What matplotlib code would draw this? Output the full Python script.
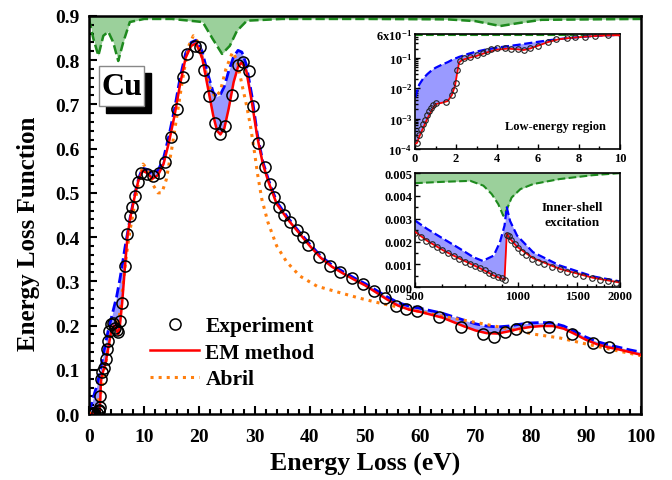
import numpy as np
import matplotlib
matplotlib.use("Agg")
import matplotlib.pyplot as plt
from matplotlib.patches import Rectangle
from matplotlib.ticker import MultipleLocator, FixedLocator, NullFormatter

plt.rcParams['font.family'] = 'Liberation Serif'
plt.rcParams['font.weight'] = 'bold'
plt.rcParams['axes.labelweight'] = 'bold'
plt.rcParams['mathtext.default'] = 'regular'

# ---- experiment (optical data), 0-100 eV
exp_E = [0.1, 0.2, 0.3, 0.4, 0.5, 0.6, 0.7, 0.8, 0.9, 1.0, 1.5, 1.8, 1.9, 2.0, 2.05,
         2.2, 2.4, 2.7, 3.0, 3.3, 3.5, 3.7, 4.0, 4.4, 4.7, 5.0, 5.3, 5.6, 6.0, 6.5,
         6.9, 7.4, 7.8, 8.3, 8.8, 9.4, 10.5, 11.6, 12.6, 13.8, 14.9, 15.9, 17.0, 17.7,
         19.2, 20.1, 20.8, 21.8, 22.8, 23.7, 24.7, 25.9, 27.0, 27.9, 28.9, 29.7, 30.7,
         31.8, 32.8, 33.5, 34.4, 35.3, 36.4, 37.7, 38.8, 39.7, 41.7, 43.7, 45.5, 47.6,
         49.6, 51.6, 53.6, 55.6, 57.4, 59.4, 63.4, 67.4, 71.4, 73.4, 75.4, 77.4, 79.3,
         83.3, 87.5, 91.3, 94.2]
exp_elf = [1.6e-4, 3e-4, 4.5e-4, 6.5e-4, 9e-4, 1.3e-3, 1.8e-3, 2.3e-3, 2.8e-3, 3.3e-3,
           3.5e-3, 6e-3, 8.5e-3, 1.5e-2, 4e-2,
           0.08, 0.095, 0.105, 0.124, 0.147, 0.165, 0.188, 0.204, 0.205, 0.195, 0.19,
           0.186, 0.21, 0.251, 0.335,
           0.407, 0.448, 0.468, 0.493, 0.524, 0.545, 0.543, 0.538, 0.545, 0.57, 0.626,
           0.69, 0.762, 0.814,
           0.832, 0.83, 0.778, 0.718, 0.658, 0.633, 0.652, 0.722, 0.79, 0.795, 0.776,
           0.697, 0.613,
           0.558, 0.52, 0.49, 0.468, 0.45, 0.434, 0.416, 0.40, 0.382, 0.355, 0.335,
           0.321, 0.307,
           0.294, 0.278, 0.262, 0.244, 0.237, 0.232, 0.219, 0.197, 0.181, 0.174, 0.186,
           0.192, 0.197,
           0.197, 0.181, 0.161, 0.151]

# ---- EM method and its upper bound (shaded), common energy grid
em_E = [0.02, 0.1, 0.2, 0.4, 0.6, 0.8, 1.0, 1.3, 1.6, 1.8, 1.95, 2.05, 2.15, 2.3, 2.6,
        3.0, 3.5, 4.0, 4.5, 5.0, 5.3, 5.6, 6.0, 6.5, 7.0, 7.5, 8.0, 8.5, 9.0, 9.7,
        10.5, 11.5, 12.5, 13.5, 14.5, 15.5, 16.5, 17.5, 18.5, 19.4, 20.5, 21.5, 22.5,
        23.2, 23.8, 24.5, 25.3, 26.2, 27.0, 27.7, 28.5, 29.5, 30.5, 31.5, 32.5, 34,
        36, 38, 40, 42, 44, 46, 48, 50, 52, 54, 56, 58, 60, 64, 68, 70, 72, 74, 76,
        78, 80, 82, 84, 86, 88, 90, 92, 94, 96, 98, 100]
em_elf = [1.5e-4, 1.6e-4, 2.5e-4, 5e-4, 1e-3, 1.8e-3, 3.0e-3, 3.3e-3, 3.8e-3, 6e-3,
          1.2e-2, 3e-2, 7e-2, 0.085, 0.098,
          0.115, 0.15, 0.185, 0.2, 0.19, 0.18, 0.2, 0.25, 0.33, 0.405, 0.445, 0.475,
          0.505, 0.53, 0.55,
          0.545, 0.532, 0.54, 0.565, 0.615, 0.675, 0.745, 0.805, 0.832, 0.838, 0.805,
          0.74, 0.675,
          0.64, 0.632, 0.645, 0.69, 0.75, 0.785, 0.795, 0.775, 0.705, 0.625, 0.565,
          0.525, 0.475,
          0.44, 0.41, 0.38, 0.353, 0.333, 0.318, 0.304, 0.291, 0.275, 0.259, 0.245,
          0.236, 0.231, 0.218, 0.198, 0.189, 0.183, 0.182, 0.187,
          0.193, 0.197, 0.199, 0.199, 0.193, 0.181, 0.168, 0.158, 0.151, 0.146, 0.14,
          0.134]
em_hi = [5e-3, 8e-3, 1.3e-2, 2.1e-2, 2.9e-2, 3.8e-2, 4.7e-2, 5.9e-2, 7.2e-2, 8.5e-2,
         0.095, 0.1, 0.107, 0.115, 0.135,
         0.16, 0.19, 0.215, 0.24, 0.265, 0.285, 0.305, 0.335, 0.375, 0.41, 0.447,
         0.478, 0.508, 0.533, 0.556,
         0.553, 0.543, 0.55, 0.578, 0.63, 0.69, 0.76, 0.815, 0.84, 0.845, 0.82, 0.77,
         0.727,
         0.718, 0.722, 0.74, 0.775, 0.808, 0.822, 0.818, 0.79, 0.72, 0.632, 0.57,
         0.53, 0.48,
         0.444, 0.413, 0.384, 0.357, 0.337, 0.322, 0.308, 0.295, 0.28, 0.265, 0.252,
         0.244, 0.239, 0.228, 0.212, 0.204, 0.199, 0.197, 0.199,
         0.203, 0.206, 0.207, 0.206, 0.199, 0.187, 0.174, 0.164, 0.157, 0.151, 0.145,
         0.14]

# ---- Abril model
abril_E = [0, 1, 2, 2.5, 3, 3.5, 4, 4.5, 5, 5.5, 6, 6.5, 7, 7.5, 8, 8.5, 9, 9.8, 10.5,
           11.5, 12.5, 13.2, 14, 15, 16, 17, 18, 18.9, 19.8, 20.8, 21.8, 22.9, 23.8,
           24.8, 26, 26.8, 27.7, 28.5, 29.2, 30, 30.5, 31.3, 32.4, 34, 35.8, 38.2,
           41.3, 45, 49, 53.3, 57.6, 63.6, 71.4, 76.3, 80.4, 85.3, 90.2, 95, 100]
abril_elf = [0, 0.01, 0.04, 0.07, 0.11, 0.15, 0.185, 0.2, 0.205, 0.22, 0.27, 0.33,
             0.38, 0.42, 0.455, 0.49, 0.525, 0.565, 0.555,
             0.52, 0.5, 0.5, 0.53, 0.6, 0.68, 0.76, 0.83, 0.855, 0.84, 0.79, 0.74,
             0.716, 0.73,
             0.78, 0.818, 0.8, 0.745, 0.7, 0.655, 0.59, 0.545, 0.486, 0.434, 0.38,
             0.344, 0.312,
             0.289, 0.276, 0.262, 0.249, 0.238, 0.222, 0.204, 0.192, 0.181, 0.172,
             0.158, 0.145, 0.132]

# ---- sum-rule ratio curve (green, top)
green_E = [0, 0.8, 1.7, 2.6, 3.5, 4.4, 5.3, 6.2, 7.4, 10, 15, 20.6, 22.4, 24.1, 25.5,
           26.8, 28.6, 35, 50, 65, 70, 74.5, 78, 82, 100]
green_v = [0.893, 0.848, 0.81, 0.855, 0.864, 0.84, 0.798, 0.84, 0.886, 0.893, 0.893,
           0.886, 0.848, 0.814, 0.832, 0.866, 0.889, 0.893, 0.893, 0.892, 0.888,
           0.877, 0.884, 0.891, 0.893]

# ---- inner-shell region
inner_exp_E = [500, 520, 540, 560, 580, 600, 625, 650, 675, 700, 725, 750, 775, 800,
               825, 850, 875, 900, 920, 930, 945, 960, 980, 1000, 1030, 1060, 1100,
               1150, 1200, 1260, 1330, 1400, 1480, 1560, 1650, 1750, 1850, 1950]
inner_exp = [0.00238, 0.0022, 0.00203, 0.00188, 0.00175, 0.00162, 0.00148, 0.00135,
             0.00123, 0.00112, 0.00101, 0.00091, 0.00082, 0.00073, 0.00063, 0.00054,
             0.00045, 0.00038, 0.00031, 0.0023, 0.00225, 0.00208, 0.00188, 0.0017,
             0.00155, 0.0014, 0.00125, 0.00112, 0.001, 0.0009, 0.00078, 0.00068,
             0.00058, 0.00048, 0.00039, 0.00031, 0.00025, 0.0002]
inner_E = [500, 543, 607, 678, 743, 790, 851, 888, 916, 930, 951, 997, 1111, 1330,
           1665, 2000]
inner_em = [0.00243, 0.00203, 0.0016, 0.00124, 0.00096, 0.00077, 0.00051, 0.0004,
            0.00034, 0.00235, 0.00212, 0.00177, 0.00127, 0.0008, 0.00041, 0.0002]
inner_hi = [0.00292, 0.00255, 0.00211, 0.00168, 0.00131, 0.00115, 0.00138, 0.00197,
            0.0027, 0.0035, 0.0029, 0.00226, 0.00153, 0.00095, 0.00047, 0.00025]
inner_green_E = [500, 607, 727, 794, 840, 878, 908, 930, 961, 1020, 1111, 1330, 1665,
                 2000]
inner_green = [0.00456, 0.00462, 0.00466, 0.00445, 0.00408, 0.00364, 0.00313, 0.0034,
               0.00393, 0.0043, 0.00452, 0.00474, 0.00491, 0.005]

fill_blue = '#9a9aff'
fill_green = '#9bd09b'
dkgreen = '#1e8a1e'
orange = '#ff7f0e'

fig = plt.figure(figsize=(6.72, 4.81), dpi=100)
ax = fig.add_axes([0.1324, 0.137, 0.8216, 0.828])

ax.fill_between(green_E, green_v, 0.9, color=fill_green, lw=0)
ax.plot(green_E, green_v, ls='--', color=dkgreen, lw=1.8)
ax.fill_between(em_E, em_elf, em_hi, color=fill_blue, lw=0)
ax.plot(em_E, em_hi, ls='--', color='blue', lw=2)
ax.plot(abril_E, abril_elf, ls=':', color=orange, lw=2.2, label='Abril', zorder=3)
ax.plot(em_E, em_elf, color='red', lw=1.8, label='EM method', zorder=4)
ax.plot(exp_E, exp_elf, 'o', mfc='none', mec='black', ms=8, mew=1.1,
        label='Experiment', zorder=5)

ax.set_xlim(0, 100)
ax.set_ylim(0, 0.9)
ax.xaxis.set_major_locator(MultipleLocator(10))
ax.xaxis.set_minor_locator(MultipleLocator(2))
ax.yaxis.set_major_locator(MultipleLocator(0.1))
ax.yaxis.set_minor_locator(MultipleLocator(0.02))
ax.yaxis.set_major_formatter(matplotlib.ticker.FormatStrFormatter('%.1f'))
ax.tick_params(which='both', direction='in', labelsize=14, width=1.5)
ax.tick_params(which='major', length=6)
ax.tick_params(axis='x', which='major', pad=10)
ax.tick_params(axis='y', which='major', pad=7)
ax.tick_params(which='minor', length=3.5)
for s in ax.spines.values():
    s.set_linewidth(1.8)
ax.set_xlabel('Energy Loss (eV)', fontsize=18.5)
ax.set_ylabel('Energy Loss Function', fontsize=18)
ax.xaxis.set_label_coords(0.5, -0.094)
ax.yaxis.set_label_coords(-0.089, 0.455)

h, l = ax.get_legend_handles_labels()
ax.legend(h[::-1], l[::-1], loc='center left', bbox_to_anchor=(0.084, 0.154),
          frameon=False, fontsize=15.5, handlelength=2.25, handletextpad=0.3,
          labelspacing=0.3, borderpad=0.2)

# Cu label with drop shadow
ax.add_patch(Rectangle((0.0308, 0.756), 0.081, 0.101, transform=ax.transAxes,
                       facecolor='black', edgecolor='black', zorder=6))
ax.add_patch(Rectangle((0.0187, 0.773), 0.081, 0.101, transform=ax.transAxes,
                       facecolor='white', edgecolor='#888888', lw=1, zorder=7))
ax.text(0.059, 0.823, 'Cu', transform=ax.transAxes, fontsize=23, ha='center',
        va='center', zorder=8)

# inset 1: low-energy region (log)
ax1 = fig.add_axes([0.6176, 0.688, 0.305, 0.239])
ax1.fill_between([0, 10], [0.56, 0.56], 0.6, color=fill_green, lw=0)
ax1.plot([0, 10], [0.56, 0.56], ls='--', color=dkgreen, lw=1.5)
ax1.fill_between(em_E, em_elf, em_hi, color=fill_blue, lw=0)
ax1.plot(em_E, em_hi, ls='--', color='blue', lw=1.6)
ax1.plot(em_E, em_elf, color='red', lw=1.3, zorder=4)
ax1.plot(exp_E, exp_elf, 'o', mfc='none', mec='#222222', ms=4, mew=0.8, zorder=5)
ax1.set_yscale('log')
ax1.set_xlim(0, 10)
ax1.set_ylim(1e-4, 0.6)
ax1.xaxis.set_major_locator(MultipleLocator(2))
ax1.xaxis.set_minor_locator(MultipleLocator(1))
ax1.set_yticks([1e-4, 1e-3, 1e-2, 1e-1, 0.6])
ax1.set_yticklabels(['10$^{-4}$', '10$^{-3}$', '10$^{-2}$', '10$^{-1}$',
                     '6x10$^{-1}$'])
ax1.yaxis.set_minor_formatter(NullFormatter())
ax1.tick_params(which='both', direction='in', labelsize=9, width=1, pad=2)
ax1.tick_params(which='major', length=3.5)
ax1.tick_params(which='minor', length=2)
for s in ax1.spines.values():
    s.set_linewidth(1.2)
ax1.text(0.93, 0.2, 'Low-energy region', transform=ax1.transAxes, fontsize=9,
         ha='right', va='center')

# inset 2: inner-shell excitation
ax2 = fig.add_axes([0.6176, 0.401, 0.305, 0.237])
ax2.fill_between(inner_green_E, inner_green, 0.005, color=fill_green, lw=0)
ax2.plot(inner_green_E, inner_green, ls='--', color=dkgreen, lw=1.5)
ax2.fill_between(inner_E, inner_em, inner_hi, color=fill_blue, lw=0)
ax2.plot(inner_E, inner_hi, ls='--', color='blue', lw=1.6)
ax2.plot(inner_E, inner_em, color='red', lw=1.3, zorder=4)
ax2.plot(inner_exp_E, inner_exp, 'o', mfc='none', mec='#222222', ms=4, mew=0.8,
         zorder=5)
ax2.set_xscale('log')
ax2.set_xlim(500, 2000)
ax2.set_ylim(0, 0.005)
ax2.xaxis.set_major_locator(FixedLocator([500, 1000, 1500, 2000]))
ax2.xaxis.set_minor_locator(FixedLocator([600, 700, 800, 900, 1100, 1200, 1300,
                                          1400, 1600, 1700, 1800, 1900]))
ax2.xaxis.set_major_formatter(matplotlib.ticker.FormatStrFormatter('%d'))
ax2.xaxis.set_minor_formatter(NullFormatter())
ax2.yaxis.set_major_locator(MultipleLocator(0.001))
ax2.yaxis.set_minor_locator(MultipleLocator(0.0005))
ax2.yaxis.set_major_formatter(matplotlib.ticker.FormatStrFormatter('%.3f'))
ax2.tick_params(which='both', direction='in', labelsize=9, width=1, pad=2)
ax2.tick_params(which='major', length=3.5)
ax2.tick_params(which='minor', length=2)
for s in ax2.spines.values():
    s.set_linewidth(1.2)
ax2.text(0.765, 0.64, 'Inner-shell\nexcitation', transform=ax2.transAxes,
         fontsize=9.5, ha='center', va='center', linespacing=1.3)

fig.savefig('out.png', dpi=100)
